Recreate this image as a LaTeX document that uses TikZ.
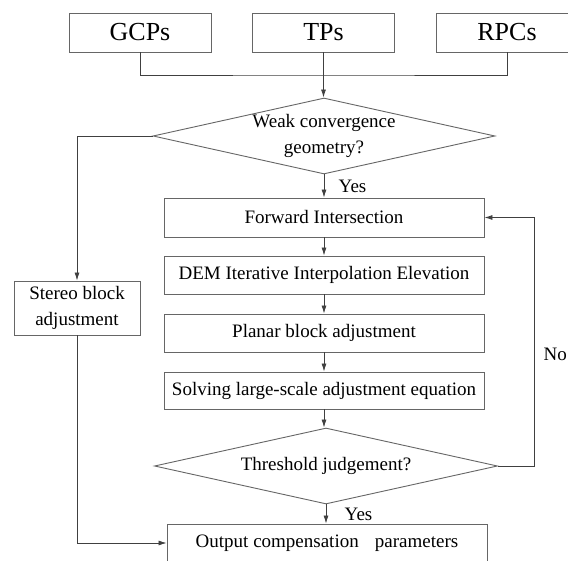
\documentclass[tikz,border=0pt]{standalone}
\usepackage{fontspec}
\setmainfont{Liberation Serif}
\usetikzlibrary{shapes.geometric,arrows.meta}
\begin{document}
\begin{tikzpicture}[x=1pt,y=-1pt,
  txt/.style={font=\fontsize{19}{26}\selectfont},
  procbox/.style={draw=black!60, line width=0.9pt, inner sep=0pt, align=center, txt},
  topbox/.style={draw=black!60, line width=0.9pt, inner sep=0pt, minimum width=142pt, minimum height=39pt, font=\fontsize{26}{30}\selectfont},
  decision/.style={draw=black!60, line width=0.9pt, shape=diamond, aspect=4.5, inner sep=0pt, align=center, txt},
  conn/.style={draw=black!75, line width=0.8pt},
  arr/.style={conn, -{Latex[length=8pt,width=5pt]}}]
\clip (0,0) rectangle (568,561);
\fill[white] (0,0) rectangle (568,561);

\node[topbox] (gcp) at (140,32.5) {GCPs};
\node[topbox] (tp) at (323.5,32.5) {TPs};
\node[topbox] (rpc) at (507,32.5) {RPCs};

\node[decision, minimum width=342pt, minimum height=76pt] (d1) at (324,136) {Weak convergence\\geometry?};

\node[procbox, minimum width=320pt, minimum height=39pt] (fwd) at (324,217.5) {Forward Intersection};
\node[procbox, minimum width=320pt, minimum height=38pt] (dem) at (324,275) {DEM Iterative Interpolation Elevation};
\node[procbox, minimum width=320pt, minimum height=38pt] (pba) at (324,333) {Planar block adjustment};
\node[procbox, minimum width=320pt, minimum height=37pt] (sol) at (324,390.5) {Solving large-scale adjustment equation};

\node[decision, minimum width=343pt, minimum height=76pt] (d2) at (326,466) {Threshold judgement?};

\node[procbox, minimum width=320pt, minimum height=38pt] (out) at (327,543) {Output compensation\hspace{0.6em} parameters};

\node[procbox, minimum width=126pt, minimum height=54pt] (stereo) at (77,308) {Stereo block\\adjustment};

\coordinate (j) at (323.5,75);
\coordinate (l1) at (77,136);
\coordinate (l2) at (77,543);
\coordinate (r1) at (534,466);
\coordinate (r2) at (534,217.5);

\draw[conn] (gcp.south) |- (j) -| (rpc.south);
\draw[arr] (tp.south) -- (tp.south |- d1.north);
\draw[arr] (d1.west) -- (l1) -- (stereo.north);
\draw[arr] (d1.south) -- (d1.south |- fwd.north) node[midway, right=11pt, txt] {Yes};
\draw[arr] (fwd.south) -- (dem.north);
\draw[arr] (dem.south) -- (pba.north);
\draw[arr] (pba.south) -- (sol.north);
\draw[arr] (sol.south) -- (sol.south |- d2.north);
\draw[arr] (d2.south) -- (d2.south |- out.north) node[midway, right=15pt, txt] {Yes};
\draw[arr] (d2.east) -- (r1) -- (r2) node[pos=0.45, right=6pt, txt] {No} -- (fwd.east);
\draw[arr] (stereo.south) -- (l2) -- (out.west);
\end{tikzpicture}
\end{document}
